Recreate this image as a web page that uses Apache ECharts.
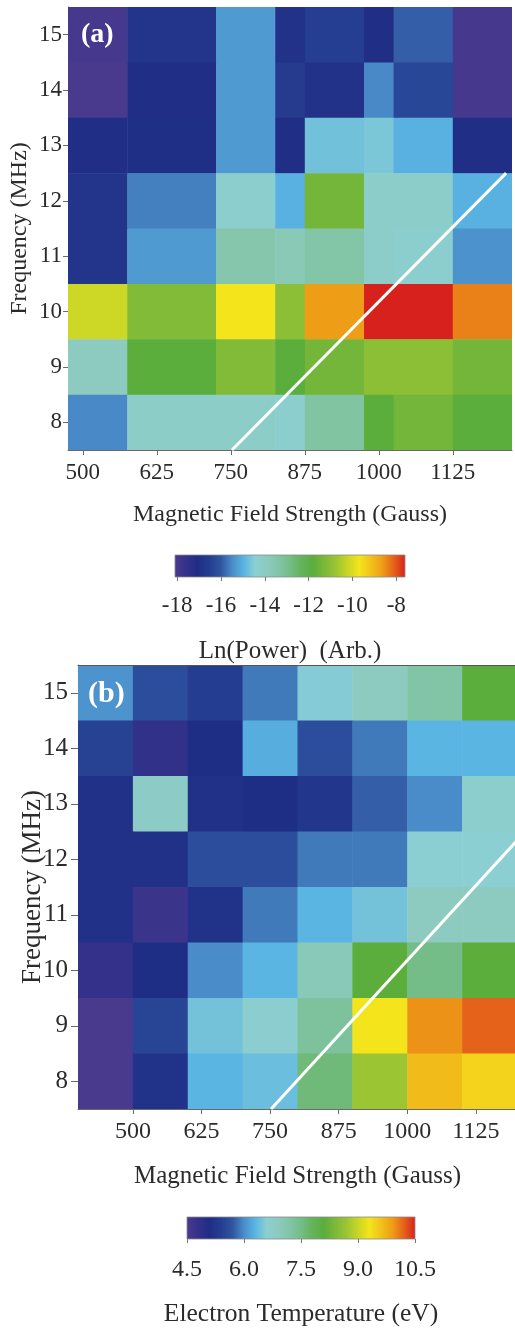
<!DOCTYPE html>
<html>
<head>
<meta charset="utf-8">
<title>Ln(Power) and Electron Temperature maps</title>
<script src="https://cdn.jsdelivr.net/npm/echarts@6/dist/echarts.min.js"></script>
<style>
  html, body { margin: 0; padding: 0; background: #ffffff; }
  #chart { width: 515px; height: 1328px; }
</style>
</head>
<body>
<div id="chart"></div>
<script>
// Frequency rows (MHz), listed top to bottom
const freqs = [15, 14, 13, 12, 11, 10, 9, 8];

// Panel (a): magnetic field bin edges (Gauss) and Ln(Power) per cell
const fieldEdgesA = [475, 575, 725, 825, 875, 975, 1025, 1125, 1225];
const powerA = [
  [-18.0, -16.8, -15.3, -16.9, -16.5, -17.1, -15.9, -18.0],
  [-18.1, -17.1, -15.3, -16.6, -16.9, -15.5, -16.3, -18.0],
  [-17.1, -17.0, -15.3, -17.1, -14.7, -14.6, -15.0, -17.1],
  [-16.8, -15.6, -14.3, -15.0, -11.4, -14.2, -14.2, -15.0],
  [-16.8, -15.3, -13.5, -13.7, -13.4, -14.2, -14.3, -15.4],
  [-10.2, -11.2, -9.7, -11.0, -8.65, -7.6, -7.6, -8.4],
  [-13.9, -11.8, -11.2, -11.8, -11.4, -11.0, -11.0, -11.4],
  [-15.5, -14.1, -14.1, -14.3, -13.3, -11.8, -11.4, -11.8]
];
const powerRange = [-18.1, -7.6];
const powerTicks = [-18, -16, -14, -12, -10, -8];

// Panel (b): magnetic field bin edges (Gauss) and electron temperature (eV) per cell
const fieldEdgesB = [400, 500, 600, 700, 800, 900, 1000, 1100, 1200];
const tempB = [
  [6.05, 5.6, 5.4, 5.9, 6.55, 6.9, 7.2, 8.1],
  [5.45, 4.85, 5.1, 6.25, 5.6, 5.9, 6.3, 6.3],
  [5.15, 6.8, 5.15, 5.1, 5.25, 5.75, 6.0, 6.7],
  [5.15, 5.15, 5.6, 5.6, 5.9, 5.9, 6.6, 6.6],
  [5.15, 4.7, 5.2, 5.9, 6.3, 6.45, 6.9, 6.9],
  [4.8, 5.1, 6.0, 6.3, 7.0, 8.1, 7.5, 8.1],
  [4.5, 5.5, 6.45, 6.65, 7.3, 9.3, 9.95, 10.2],
  [4.5, 5.2, 6.3, 6.4, 7.6, 8.7, 9.65, 9.45]
];
const tempRange = [4.5, 10.5];
const tempTicks = [4.5, 6.0, 7.5, 9.0, 10.5];

// Shared axis tick labels
const fieldTicks = [500, 625, 750, 875, 1000, 1125];
const freqTicks = [8, 9, 10, 11, 12, 13, 14, 15];

// Resonance line (Gauss, MHz)
const resonanceLine = [[752, 7.5], [1215, 12.5]];

// Rainbow colour map, evenly spaced from low to high
const rainbow = [
  '#4a3a8e', '#34318a', '#1f2e85', '#253d90', '#2f55a0', '#4a8cc9',
  '#5ab5e2', '#8ccfd2', '#8dcbc0', '#82c5a6', '#74bd88', '#64b35a',
  '#5bad3c', '#7cb938', '#9cc534', '#cad626', '#f3e41c', '#f2c21a',
  '#ee9d17', '#e4621a', '#d7211c'
];

const FONT = 'Liberation Serif';
const TEXT = '#2b2b2b';

function cells(edges, grid) {
  const out = [];
  grid.forEach((row, r) => {
    row.forEach((v, c) => out.push([edges[c], edges[c + 1], freqs[r], v]));
  });
  return out;
}

function renderCell(params, api) {
  const f = api.value(2);
  const p0 = api.coord([api.value(0), f + 0.5]);
  const p1 = api.coord([api.value(1), f - 0.5]);
  return {
    type: 'rect',
    shape: { x: p0[0], y: p0[1], width: p1[0] - p0[0] + 0.5, height: p1[1] - p0[1] + 0.5 },
    style: { fill: api.visual('color') }
  };
}

const gradient = {
  type: 'linear', x: 0, y: 0, x2: 1, y2: 0,
  colorStops: rainbow.map((c, i) => ({ offset: i / (rainbow.length - 1), color: c }))
};

function renderBar(params, api) {
  const p0 = api.coord([api.value(0), 1]);
  const p1 = api.coord([api.value(1), 0]);
  return {
    type: 'rect',
    shape: { x: p0[0], y: p0[1], width: p1[0] - p0[0], height: p1[1] - p0[1] },
    style: { fill: gradient, stroke: '#8a8a8a', lineWidth: 0.8 }
  };
}

function fieldAxis(gridIndex, range, size, margin, nameGap) {
  return {
    type: 'value', gridIndex, min: range[0], max: range[1],
    splitLine: { show: false },
    axisLine: { show: true, lineStyle: { color: '#6a6a6a', width: 1 } },
    axisTick: { show: true, customValues: fieldTicks, length: 5, lineStyle: { color: '#6a6a6a' } },
    axisLabel: { customValues: fieldTicks, margin, formatter: v => String(v),
      color: TEXT, fontFamily: FONT, fontSize: size },
    name: 'Magnetic Field Strength (Gauss)', nameLocation: 'middle', nameGap,
    nameMoveOverlap: false,
    nameTextStyle: { color: TEXT, fontFamily: FONT, fontSize: size + 1 }
  };
}

function freqAxis(gridIndex, size, nameSize, tickLen, margin, nameGap) {
  return {
    type: 'value', gridIndex, min: 7.5, max: 15.5,
    splitLine: { show: false },
    axisLine: { show: true, lineStyle: { color: '#6a6a6a', width: 1 } },
    axisTick: { show: true, customValues: freqTicks, length: tickLen, lineStyle: { color: '#6a6a6a' } },
    axisLabel: { customValues: freqTicks, margin, color: TEXT, fontFamily: FONT, fontSize: size },
    name: 'Frequency (MHz)', nameLocation: 'middle', nameGap,
    nameMoveOverlap: false,
    nameTextStyle: { color: TEXT, fontFamily: FONT, fontSize: nameSize }
  };
}

function barAxis(gridIndex, range, ticks, fmt, name, margin, nameGap, size, nameSize) {
  return {
    type: 'value', gridIndex, min: range[0], max: range[1],
    splitLine: { show: false },
    axisLine: { show: false },
    axisTick: { show: true, customValues: ticks, length: 4, lineStyle: { color: '#777' } },
    axisLabel: { customValues: ticks, margin, formatter: fmt, color: TEXT, fontFamily: FONT, fontSize: size },
    name, nameLocation: 'middle', nameGap,
    nameMoveOverlap: false,
    nameTextStyle: { color: TEXT, fontFamily: FONT, fontSize: nameSize }
  };
}

const hiddenY = gridIndex => ({ type: 'value', gridIndex, min: 0, max: 1, show: false });

const chart = echarts.init(document.getElementById('chart'), null, { renderer: 'canvas' });

chart.setOption({
  backgroundColor: '#ffffff',
  animation: false,
  title: [
    { text: '(a)', left: 76, top: 16, textStyle: { color: '#ffffff', fontFamily: FONT, fontWeight: 'bold', fontSize: 28 } },
    { text: '(b)', left: 83, top: 674, textStyle: { color: '#ffffff', fontFamily: FONT, fontWeight: 'bold', fontSize: 30 } }
  ],
  grid: [
    { left: 68, top: 7, width: 444, height: 443, outerBoundsMode: 'none' },
    { left: 175, top: 555, width: 230, height: 22, outerBoundsMode: 'none' },
    { left: 78, top: 665, width: 439, height: 444, outerBoundsMode: 'none' },
    { left: 187, top: 1217, width: 228, height: 22, outerBoundsMode: 'none' }
  ],
  xAxis: [
    fieldAxis(0, [fieldEdgesA[0], fieldEdgesA[fieldEdgesA.length - 1]], 23, 11, 53),
    barAxis(1, powerRange, powerTicks, v => String(v), 'Ln(Power)  (Arb.)', 17, 62, 23, 25),
    fieldAxis(2, [fieldEdgesB[0], fieldEdgesB[fieldEdgesB.length - 1]], 24, 11, 55),
    barAxis(3, tempRange, tempTicks, v => v.toFixed(1), 'Electron Temperature (eV)', 19, 62, 24, 25.5),
    // frame line along the top of panel (b)
    { type: 'value', gridIndex: 2, position: 'top', min: fieldEdgesB[0], max: fieldEdgesB[fieldEdgesB.length - 1],
      z: 10, splitLine: { show: false }, axisTick: { show: false }, axisLabel: { show: false },
      axisLine: { show: true, lineStyle: { color: '#555', width: 1 } } }
  ],
  yAxis: [
    freqAxis(0, 23, 24, 5, 6, 36),
    hiddenY(1),
    freqAxis(2, 25, 27, 7, 10, 32),
    hiddenY(3)
  ],
  visualMap: [
    { type: 'continuous', show: false, seriesIndex: 0, dimension: 3,
      min: powerRange[0], max: powerRange[1], inRange: { color: rainbow } },
    { type: 'continuous', show: false, seriesIndex: 3, dimension: 3,
      min: tempRange[0], max: tempRange[1], inRange: { color: rainbow } }
  ],
  series: [
    { type: 'custom', xAxisIndex: 0, yAxisIndex: 0, renderItem: renderCell,
      encode: { x: [0, 1], y: 2 }, data: cells(fieldEdgesA, powerA), clip: true, z: 1 },
    { type: 'line', xAxisIndex: 0, yAxisIndex: 0, data: resonanceLine, symbol: 'none',
      lineStyle: { color: '#ffffff', width: 3 }, clip: true, z: 3, silent: true },
    { type: 'custom', xAxisIndex: 1, yAxisIndex: 1, renderItem: renderBar,
      encode: { x: [0, 1] }, data: [[powerRange[0], powerRange[1]]] },
    { type: 'custom', xAxisIndex: 2, yAxisIndex: 2, renderItem: renderCell,
      encode: { x: [0, 1], y: 2 }, data: cells(fieldEdgesB, tempB), clip: true, z: 1 },
    { type: 'line', xAxisIndex: 2, yAxisIndex: 2, data: resonanceLine, symbol: 'none',
      lineStyle: { color: '#ffffff', width: 3 }, clip: true, z: 3, silent: true },
    { type: 'custom', xAxisIndex: 3, yAxisIndex: 3, renderItem: renderBar,
      encode: { x: [0, 1] }, data: [[tempRange[0], tempRange[1]]] }
  ]
});
</script>
</body>
</html>
